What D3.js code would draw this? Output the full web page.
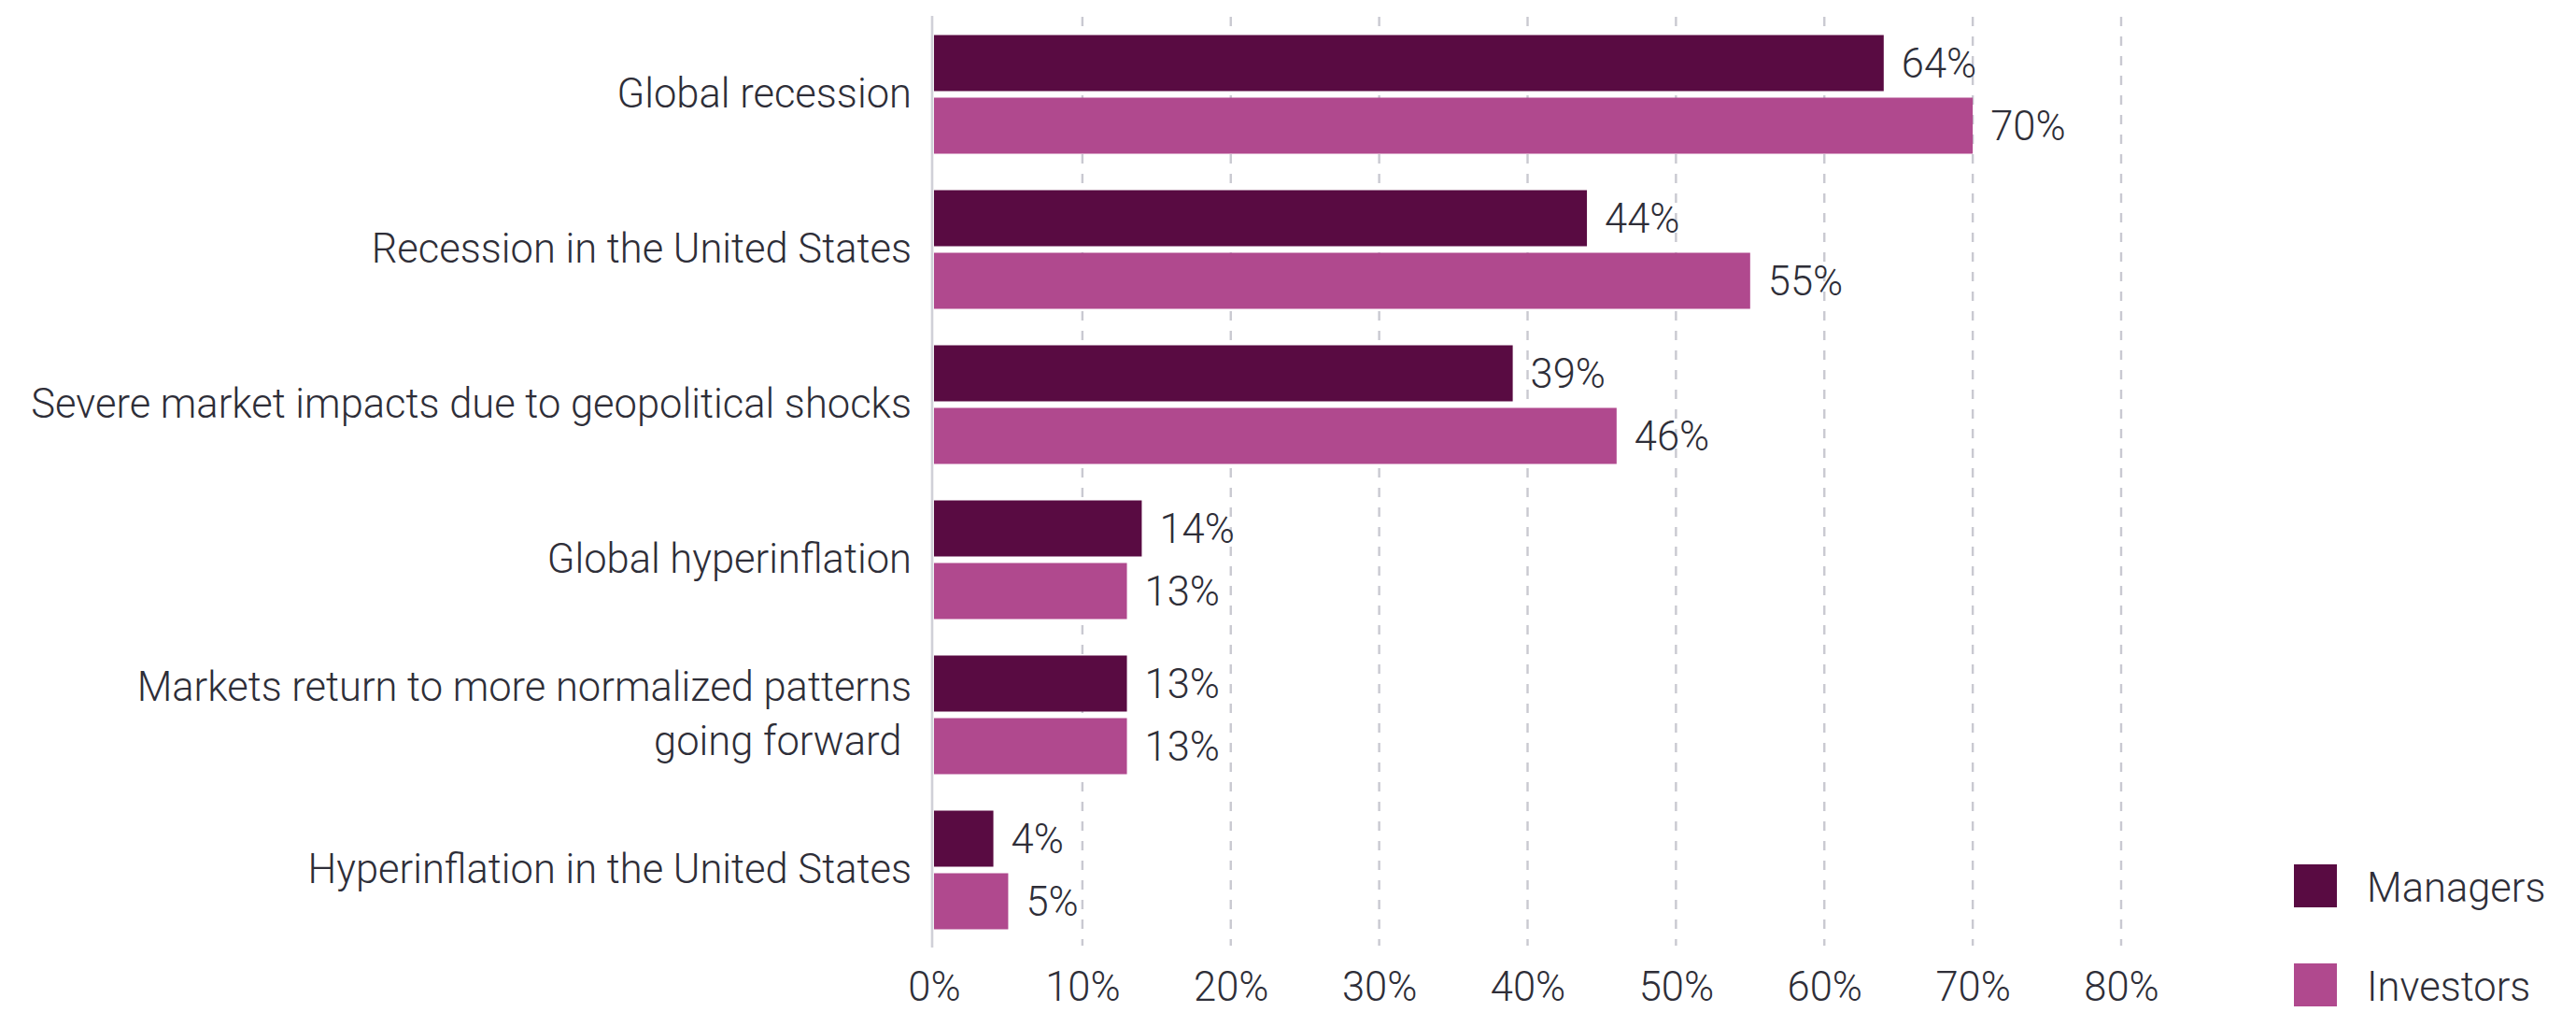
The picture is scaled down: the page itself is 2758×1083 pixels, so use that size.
<!DOCTYPE html>
<html>
<head>
<meta charset="utf-8">
<script src="https://cdn.jsdelivr.net/npm/d3@7"></script>
<style>
  html, body { margin: 0; padding: 0; background: #ffffff; }
  svg { display: block; }
  text { font-family: Roboto, "Noto Sans", sans-serif; font-weight: 300; fill: #2e2e38; }
</style>
</head>
<body>
<svg id="chart" width="2758" height="1083"></svg>
<script>
// Survey results: share of respondents expecting each scenario
const categories = [
  "Global recession",
  "Recession in the United States",
  "Severe market impacts due to geopolitical shocks",
  "Global hyperinflation",
  "Markets return to more normalized patterns\ngoing forward ",
  "Hyperinflation in the United States"
];
const managers = [64, 44, 39, 14, 13, 4];
const investors = [70, 55, 46, 13, 13, 5];
const seriesNames = ["Managers", "Investors"];
const seriesColors = ["#590b42", "#b0498e"];
const xTicks = [0, 10, 20, 30, 40, 50, 60, 70, 80];

const rows = categories.map((c, i) => ({
  category: c,
  values: [
    { series: seriesNames[0], value: managers[i] },
    { series: seriesNames[1], value: investors[i] }
  ]
}));

const svg = d3.select("#chart");
const FONT = 43.5;
const HALF_CAP = 15.5;
const plotTop = 18, plotBottom = 1014;

const x = d3.scaleLinear().domain([0, 80]).range([1000, 2271]);
const y = d3.scaleBand().domain(categories).range([plotTop, plotBottom])
  .paddingInner(0.235).paddingOuter(0.1175);
const ySub = d3.scaleBand().domain(seriesNames).range([0, y.bandwidth()])
  .paddingInner(7 / 67);
const color = d3.scaleOrdinal().domain(seriesNames).range(seriesColors);

// dashed vertical gridlines
svg.append("g").selectAll("line")
  .data(xTicks.filter(t => t > 0))
  .join("line")
  .attr("x1", d => x(d)).attr("x2", d => x(d))
  .attr("y1", plotTop).attr("y2", plotBottom - 2)
  .attr("stroke", "#c9c9d1").attr("stroke-width", 2.4)
  .attr("stroke-dasharray", "10,11");

// category axis line
svg.append("line")
  .attr("x1", x(0) - 2).attr("x2", x(0) - 2)
  .attr("y1", plotTop - 1).attr("y2", plotBottom)
  .attr("stroke", "#d0d0d8").attr("stroke-width", 2.6);

// bars
const groups = svg.append("g").selectAll("g")
  .data(rows)
  .join("g")
  .attr("transform", d => `translate(0,${y(d.category)})`);

groups.selectAll("rect")
  .data(d => d.values)
  .join("rect")
  .attr("x", x(0))
  .attr("y", d => ySub(d.series))
  .attr("width", d => x(d.value) - x(0))
  .attr("height", ySub.bandwidth())
  .attr("fill", d => color(d.series));

// value labels
groups.selectAll("text.value")
  .data(d => d.values)
  .join("text")
  .attr("class", "value")
  .attr("x", d => x(d.value) + 19)
  .attr("y", d => ySub(d.series) + ySub.bandwidth() / 2 + HALF_CAP)
  .attr("font-size", FONT)
  .text(d => d.value + "%");

// category labels, right aligned against the axis
const lineGap = 58;
svg.append("g").selectAll("text")
  .data(categories)
  .join("text")
  .attr("text-anchor", "end")
  .attr("font-size", FONT)
  .attr("xml:space", "preserve")
  .style("white-space", "pre")
  .each(function (d) {
    const lines = d.split("\n");
    const cy = y(d) + y.bandwidth() / 2;
    d3.select(this).selectAll("tspan")
      .data(lines)
      .join("tspan")
      .attr("x", 976)
      .attr("y", (l, i) => cy + HALF_CAP - 2 + (i - (lines.length - 1) / 2) * lineGap)
      .text(l => l);
  });

// percentage axis
const xAxis = d3.axisBottom(x)
  .tickValues(xTicks)
  .tickFormat(d => d + "%")
  .tickSize(0)
  .tickPadding(26);
const axisG = svg.append("g")
  .attr("transform", `translate(0,${plotBottom})`)
  .call(xAxis);
axisG.select(".domain").remove();
axisG.selectAll("text")
  .attr("font-size", FONT)
  .attr("font-family", null)
  .style("font-family", "Roboto, 'Noto Sans', sans-serif")
  .style("font-weight", 300)
  .attr("fill", "#2e2e38");

// legend
const legend = svg.append("g").selectAll("g")
  .data(seriesNames)
  .join("g")
  .attr("transform", (d, i) => `translate(2456,${925 + i * 106})`);
legend.append("rect")
  .attr("width", 46).attr("height", 46)
  .attr("fill", d => color(d));
legend.append("text")
  .attr("x", 78).attr("y", 40)
  .attr("font-size", FONT)
  .text(d => d);
</script>
</body>
</html>
